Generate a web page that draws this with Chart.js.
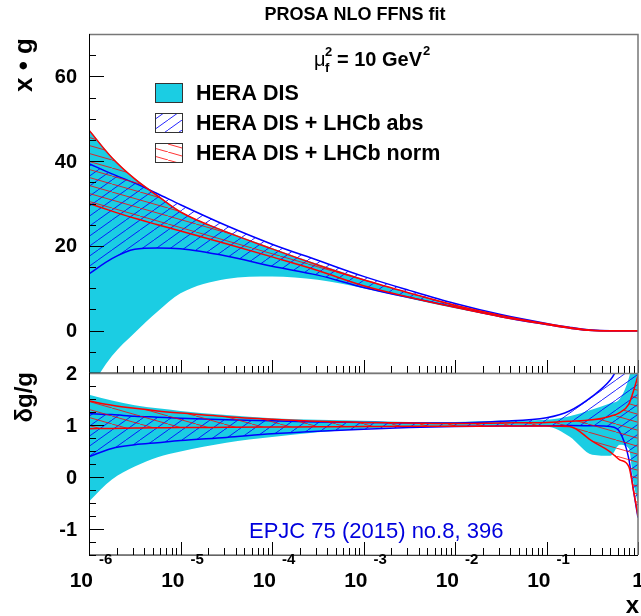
<!DOCTYPE html>
<html>
<head>
<meta charset="utf-8">
<script src="https://cdn.jsdelivr.net/npm/chart.js@4.4.0/dist/chart.umd.min.js"></script>
<style>
  body { margin: 0; background: #fff; }
  #wrap { position: relative; width: 641px; height: 616px; overflow: hidden; }
  canvas { position: absolute; left: 0; display: block; }
  #topChart { top: 0; }
  #botChart { top: 360px; }
</style>
</head>
<body>
<div id="wrap">
  <canvas id="topChart" width="641" height="380" style="width:641px;height:380px"></canvas>
  <canvas id="botChart" width="641" height="256" style="width:641px;height:256px"></canvas>
</div>
<script>
// x grid of the bands (log spaced, denser near x = 1)
const xs = [1e-6, 1.78e-6, 3.16e-6, 5.62e-6, 1e-5, 3.16e-5, 1e-4, 3.16e-4, 1e-3, 3.16e-3,
            1e-2, 3.16e-2, 0.1, 0.178, 0.316, 0.5, 0.631, 0.794, 0.891, 1];

// upper panel: x*g
const disLo  = [-14, -6, -0.5, 4.5, 8.8, 12.2, 12.8, 12, 10, 7.6, 5.3, 3.2, 1.4, 0.6, 0.05, 0, 0, 0, 0, 0];
const disHi  = [47.5, 41, 36, 32, 28.2, 23.5, 19.5, 15.7, 12.2, 9, 6.1, 3.7, 1.6, 0.75, 0.1, 0, 0, 0, 0, 0];
const absLo  = [13.4, 17, 19.2, 19.5, 19.3, 17.6, 15.2, 13.1, 10.2, 7.8, 5.6, 3.3, 1.45, 0.6, 0.05, 0, 0, 0, 0, 0];
const absHi  = [39.4, 37, 34.8, 32.3, 29.7, 24.8, 20.4, 16.6, 12.8, 9.5, 6.4, 3.8, 1.7, 0.8, 0.12, 0, 0, 0, 0, 0];
const normLo = [30, 28.2, 26.5, 25, 23.5, 20.5, 17.4, 14.2, 10.6, 7.9, 5.5, 3.3, 1.45, 0.6, 0.05, 0, 0, 0, 0, 0];
const normHi = [47.3, 40.8, 35.8, 31.8, 28, 23.3, 19.3, 15.5, 12, 8.9, 6.0, 3.6, 1.6, 0.75, 0.1, 0, 0, 0, 0, 0];

// lower panel: relative uncertainty dg/g
const disLoR  = [-0.47, -0.05, 0.2, 0.38, 0.49, 0.66, 0.77, 0.86, 0.93, 0.96, 0.98, 0.99, 0.97, 0.78, 0.43, 0.41, 0.62, 0.55, -0.1, -0.5];
const disHiR  = [1.58, 1.47, 1.38, 1.32, 1.27, 1.19, 1.13, 1.1, 1.08, 1.06, 1.06, 1.08, 1.1, 1.17, 1.3, 1.42, 1.5, 1.9, 2.3, 2.6];
const absLoR  = [0.39, 0.55, 0.62, 0.66, 0.7, 0.76, 0.83, 0.88, 0.92, 0.95, 0.97, 0.98, 0.985, 0.99, 0.985, 0.97, 0.87, 0.35, -0.25, -0.78];
const absHiR  = [1.22, 1.2, 1.17, 1.15, 1.13, 1.1, 1.08, 1.06, 1.05, 1.04, 1.04, 1.07, 1.14, 1.27, 1.55, 1.87, 2.15, 2.4, 2.5, 2.6];
const normLoR = [0.93, 0.935, 0.94, 0.945, 0.95, 0.955, 0.96, 0.965, 0.97, 0.975, 0.975, 0.98, 0.98, 0.97, 0.69, 0.48, 0.33, 0.2, -0.25, -0.75];
const normHiR = [1.46, 1.38, 1.32, 1.27, 1.23, 1.16, 1.11, 1.07, 1.05, 1.04, 1.03, 1.04, 1.05, 1.07, 1.1, 1.17, 1.24, 1.4, 1.65, 1.95];

const seriesNames = ["HERA DIS", "HERA DIS + LHCb abs", "HERA DIS + LHCb norm"];
const yTicksTop = [0, 20, 40, 60];
const yTicksBot = [-1, 0, 1, 2];
const xDecades = [-6, -5, -4, -3, -2, -1, 0];

const CYAN = "#1bcde3";
const FONT = "'Liberation Sans', Arial, Helvetica, sans-serif";

function hatch(ctx, color, w, h, rising) {
  const c = document.createElement("canvas");
  c.width = w; c.height = h;
  const g = c.getContext("2d");
  g.strokeStyle = color;
  g.lineWidth = 1;
  g.beginPath();
  for (const o of [-w, 0, w]) {
    if (rising) { g.moveTo(o, h); g.lineTo(o + w, 0); }
    else { g.moveTo(o, 0); g.lineTo(o + w, h); }
  }
  g.stroke();
  return ctx.createPattern(c, "repeat");
}

function pts(arr) { return xs.map((x, i) => ({ x: x, y: arr[i] })); }

function bandSets(ctx, lo, hi, kind) {
  const base = { pointRadius: 0, borderWidth: 0, cubicInterpolationMode: "monotone" };
  if (kind === "dis") {
    return [
      { ...base, data: pts(lo), fill: false, order: 3, borderColor: "rgba(0,0,0,0)" },
      { ...base, data: pts(hi), fill: 0, order: 3, borderColor: "rgba(0,0,0,0)", backgroundColor: CYAN }
    ];
  }
  const col = kind === "abs" ? "#0000ff" : "#ff0000";
  const pat = kind === "abs" ? hatch(ctx, "rgba(0,0,255,0.85)", 14, 10, true)
                             : hatch(ctx, "rgba(255,0,0,0.8)", 28, 8, false);
  const idx = kind === "abs" ? 2 : 4;
  const ord = kind === "abs" ? 2 : 1;
  return [
    { ...base, data: pts(lo), fill: false, order: ord, borderColor: col, borderWidth: 1.5 },
    { ...base, data: pts(hi), fill: idx, order: ord, borderColor: col, borderWidth: 1.5, backgroundColor: pat }
  ];
}

// ROOT-like frame with inward ticks and y labels
const axesPlugin = {
  id: "rootAxes",
  afterDatasetsDraw(chart, args, opts) {
    const { ctx, chartArea: a, scales } = chart;
    ctx.save();
    ctx.strokeStyle = "#000";
    ctx.lineWidth = 1;
    ctx.beginPath();
    for (const e of xDecades) {
      for (let m = 1; m <= 9; m++) {
        const v = m * Math.pow(10, e);
        if (v > 1.0001) break;
        const px = Math.round(scales.x.getPixelForValue(v)) + 0.5;
        const len = m === 1 ? 13 : 7;
        ctx.moveTo(px, a.bottom);
        ctx.lineTo(px, a.bottom - len);
      }
    }
    const n = Math.round((opts.yMax - opts.yMin) / opts.yMinor);
    for (let k = 0; k <= n; k++) {
      const v = opts.yMin + k * opts.yMinor;
      const py = Math.round(scales.y.getPixelForValue(v)) + 0.5;
      const r = v / opts.yMajor;
      const major = Math.abs(r - Math.round(r)) < 1e-6;
      ctx.moveTo(a.left, py);
      ctx.lineTo(a.left + (major ? 15 : 7), py);
    }
    ctx.stroke();
    ctx.strokeStyle = "#777";
    ctx.lineWidth = 1.5;
    ctx.beginPath();
    ctx.moveTo(a.left, a.top + 0.5);
    ctx.lineTo(a.right, a.top + 0.5);
    ctx.lineTo(a.right, a.bottom);
    ctx.stroke();
    ctx.strokeStyle = "#000";
    ctx.lineWidth = 1;
    ctx.beginPath();
    ctx.moveTo(a.left + 0.5, a.top);
    ctx.lineTo(a.left + 0.5, a.bottom);
    ctx.lineTo(a.right, a.bottom + 0.5);
    ctx.stroke();

    ctx.fillStyle = "#000";
    ctx.font = "bold 20px " + FONT;
    ctx.textAlign = "right";
    ctx.textBaseline = "middle";
    opts.yTicks.forEach(v => {
      ctx.fillText(String(v), 77, scales.y.getPixelForValue(v) + 1);
    });
    ctx.restore();
  }
};

function rotText(ctx, txt, x, y, font) {
  ctx.save();
  ctx.translate(x, y);
  ctx.rotate(-Math.PI / 2);
  ctx.font = font;
  ctx.textAlign = "right";
  ctx.textBaseline = "alphabetic";
  ctx.fillText(txt, 0, 0);
  ctx.restore();
}

const topText = {
  id: "topText",
  afterDraw(chart) {
    const ctx = chart.ctx;
    ctx.save();
    ctx.fillStyle = "#000";
    ctx.textBaseline = "alphabetic";
    ctx.font = "bold 18px " + FONT;
    ctx.textAlign = "center";
    ctx.fillText("PROSA NLO FFNS fit", 355, 20);

    // mu_f^2 = 10 GeV^2
    ctx.textAlign = "left";
    let x = 314;
    ctx.font = "20px " + FONT;
    ctx.fillText("\u03bc", x, 66);
    ctx.font = "bold 13px " + FONT;
    ctx.fillText("f", x + 11, 72);
    ctx.fillText("2", x + 11, 56);
    x += 23;
    ctx.font = "bold 20px " + FONT;
    const s = "= 10 GeV";
    ctx.fillText(s, x, 66);
    x += ctx.measureText(s).width + 1;
    ctx.font = "bold 13px " + FONT;
    ctx.fillText("2", x, 55);

    // legend
    const fills = [CYAN, hatch(ctx, "rgba(0,0,255,0.85)", 14, 10, true), hatch(ctx, "rgba(255,0,0,0.8)", 28, 8, false)];
    seriesNames.forEach((name, i) => {
      const by = 83 + i * 30;
      ctx.fillStyle = fills[i];
      ctx.fillRect(155, by, 27, 19);
      ctx.strokeStyle = "#333";
      ctx.lineWidth = 1;
      ctx.strokeRect(155.5, by + 0.5, 27, 19);
      ctx.fillStyle = "#000";
      ctx.font = "bold 21.5px " + FONT;
      ctx.fillText(name, 196, by + 17);
    });

    rotText(ctx, "x \u2022 g", 32, 38, "bold 26px " + FONT);
    ctx.restore();
  }
};

const botText = {
  id: "botText",
  afterDraw(chart) {
    const ctx = chart.ctx;
    const sx = chart.scales.x;
    ctx.save();
    ctx.fillStyle = "#000";
    ctx.textBaseline = "alphabetic";
    xDecades.forEach(e => {
      const px = sx.getPixelForValue(Math.pow(10, e));
      ctx.font = "bold 21px " + FONT;
      if (e === 0) {
        ctx.textAlign = "center";
        ctx.fillText("1", px, 227);
        return;
      }
      ctx.textAlign = "right";
      ctx.fillText("10", px + 4, 227);
      ctx.font = "bold 15px " + FONT;
      ctx.textAlign = "left";
      ctx.fillText(String(e), px + 10, 204);
    });
    ctx.font = "bold 24px " + FONT;
    ctx.textAlign = "right";
    ctx.fillText("x", 639, 253);

    ctx.fillStyle = "#0000dd";
    ctx.font = "22px " + FONT;
    ctx.textAlign = "left";
    ctx.fillText("EPJC 75 (2015) no.8, 396", 249, 178);

    ctx.fillStyle = "#000";
    rotText(ctx, "\u03b4g/g", 32, 12, "bold 24px " + FONT);
    ctx.restore();
  }
};

function makeChart(id, sets, yMin, yMax, yTicks, minor, major, padTop, padBottom, textPlugin) {
  const ctx = document.getElementById(id).getContext("2d");
  return new Chart(ctx, {
    type: "line",
    data: { datasets: sets(ctx) },
    options: {
      responsive: false,
      animation: false,
      layout: { padding: { left: 89, right: 3, top: padTop, bottom: padBottom } },
      plugins: {
        legend: { display: false },
        tooltip: { enabled: false },
        rootAxes: { yMin: yMin, yMax: yMax, yMinor: minor, yMajor: major, yTicks: yTicks }
      },
      scales: {
        x: { type: "logarithmic", min: 1e-6, max: 1, display: false },
        y: { min: yMin, max: yMax, display: false }
      }
    },
    plugins: [axesPlugin, textPlugin]
  });
}

makeChart("topChart", ctx => [
  ...bandSets(ctx, disLo, disHi, "dis"),
  ...bandSets(ctx, absLo, absHi, "abs"),
  ...bandSets(ctx, normLo, normHi, "norm")
], -10, 70, yTicksTop, 5, 20, 34, 7, topText);

makeChart("botChart", ctx => [
  ...bandSets(ctx, disLoR, disHiR, "dis"),
  ...bandSets(ctx, absLoR, absHiR, "abs"),
  ...bandSets(ctx, normLoR, normHiR, "norm")
], -1.5, 2, yTicksBot, 0.25, 1, 13, 61, botText);
</script>
</body>
</html>
